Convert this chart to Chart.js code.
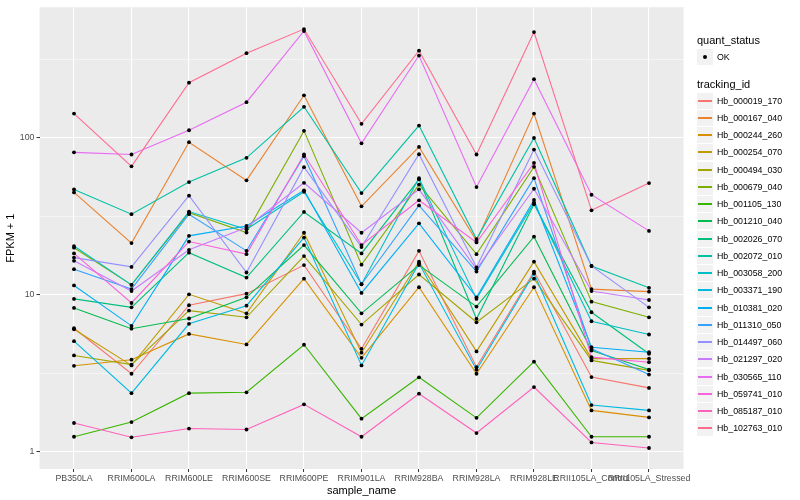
<!DOCTYPE html>
<html>
<head>
<meta charset="utf-8">
<script src="https://cdn.jsdelivr.net/npm/chart.js@4.4.0/dist/chart.umd.min.js"></script>
<style>
  body { margin: 0; background: #fff; font-family: "Liberation Sans", Arial, sans-serif; }
  #wrap { position: relative; width: 800px; height: 500px; }
  #legend div { position: absolute; white-space: nowrap; }
  .ltitle { font-size: 11px; color: #000; line-height: 13px; }
  .lkey { width: 16px; height: 16px; background: #F2F2F2; }
  .ltext { font-size: 8.8px; color: #000; line-height: 10px; }
</style>
</head>
<body>
<div id="wrap">
  <canvas id="fpkmChart" width="800" height="500"></canvas>
  <div id="legend"></div>
</div>
<script>
// --- data (values are FPKM + 1) ---
const sampleNames = ['PB350LA', 'RRIM600LA', 'RRIM600LE', 'RRIM600SE', 'RRIM600PE', 'RRIM901LA',
  'RRIM928BA', 'RRIM928LA', 'RRIM928LE', 'RRII105LA_Control', 'RRII105LA_Stressed'];

const trackingIds = ['Hb_000019_170', 'Hb_000167_040', 'Hb_000244_260', 'Hb_000254_070', 'Hb_000494_030',
  'Hb_000679_040', 'Hb_001105_130', 'Hb_001210_040', 'Hb_002026_070', 'Hb_002072_010',
  'Hb_003058_200', 'Hb_003371_190', 'Hb_010381_020', 'Hb_011310_050', 'Hb_014497_060',
  'Hb_021297_020', 'Hb_030565_110', 'Hb_059741_010', 'Hb_085187_010', 'Hb_102763_010'];

const hb000019 = [6.14, 3.15, 8.6, 10.2, 15.5, 4.54, 19.1, 3.47, 14.1, 3.0, 2.56];
const hb000167 = [45, 21.4, 94, 53.7, 187, 36.7, 87.7, 22.1, 143, 10.9, 10.5];
const hb000244 = [3.54, 3.87, 5.65, 4.84, 12.7, 3.98, 11.2, 3.15, 11.2, 1.84, 1.66];
const hb000254 = [6.05, 3.56, 10.1, 7.64, 24.9, 4.29, 16.3, 4.37, 16.3, 3.93, 3.93];
const hb000494 = [4.12, 3.6, 7.95, 7.21, 17.7, 6.48, 13.5, 6.7, 12.7, 3.83, 3.31];
const hb000679 = [20.0, 11.6, 33.4, 25.0, 111, 15.6, 50.5, 18.2, 65.5, 9.07, 7.21];
const hb001105 = [1.25, 1.55, 2.37, 2.4, 4.82, 1.63, 2.99, 1.65, 3.76, 1.25, 1.25];
const hb001210 = [8.27, 6.1, 7.08, 9.66, 20.8, 7.64, 15.5, 8.43, 23.5, 4.43, 3.35];
const hb002026 = [9.44, 8.34, 18.6, 12.9, 33.8, 18.4, 54.5, 7.05, 37.8, 7.76, 4.22];
const hb002072 = [47, 32.7, 52.4, 74.7, 158, 44.6, 120, 22.7, 100, 15.3, 11.1];
const hb003058 = [20.5, 11.6, 34, 26.2, 45.4, 11.7, 55.5, 9.44, 38.7, 6.8, 5.6];
const hb003371 = [5.08, 2.37, 6.55, 8.55, 23.2, 3.56, 15.9, 3.34, 13.7, 1.99, 1.84];
const hb010381 = [11.5, 6.36, 23.8, 27.5, 46.4, 10.3, 28.6, 9.66, 40.3, 4.65, 4.32];
const hb011310 = [14.6, 10.9, 32.7, 19.1, 76.6, 11.7, 37.2, 14.1, 55.5, 4.54, 3.11];
const hb014497 = [17.3, 15.1, 42.9, 13.9, 65.2, 20.2, 78.8, 15.0, 84.4, 15.3, 8.34];
const hb021297 = [16.5, 10.6, 19.4, 26.9, 51.8, 24.9, 47.1, 14.6, 47.5, 10.6, 9.29];
const hb030565 = [81, 78.5, 112, 169, 480, 92.5, 335, 48.7, 237, 43.5, 25.6];
const hb059741 = [18.4, 8.89, 21.9, 18.2, 78.5, 20.8, 40.1, 21.6, 69.4, 4.02, 3.73];
const hb085187 = [1.53, 1.24, 1.41, 1.39, 2.01, 1.25, 2.35, 1.32, 2.59, 1.15, 1.06];
const hb102763 = [143, 66, 225, 347, 494, 123, 360, 78.5, 473, 34.6, 51.6];

const yBreaks = [1, 3.1623, 10, 31.623, 100, 316.23];
const yTickLabels = ['1', '', '10', '', '100', ''];

const allSeries = [hb000019, hb000167, hb000244, hb000254, hb000494, hb000679, hb001105, hb001210,
  hb002026, hb002072, hb003058, hb003371, hb010381, hb011310, hb014497, hb021297, hb030565,
  hb059741, hb085187, hb102763];

// ggplot default hue palette for 20 groups
const lineColors = ['#F8766D', '#EA8331', '#D89000', '#C09B00', '#A3A500', '#7CAE00', '#39B600',
  '#00BB4E', '#00BF7D', '#00C1A3', '#00BFC4', '#00BAE0', '#00B0F6', '#35A2FF', '#9590FF',
  '#C77CFF', '#E76BF3', '#FA62DB', '#FF62BC', '#FF6C91'];

// lines first (last id on top), then the black points over everything
const datasets = [];
allSeries.forEach(function(vals, i) {
  datasets.push({
    label: trackingIds[i],
    data: vals.map((v, j) => ({ x: j, y: v })),
    borderColor: lineColors[i],
    borderWidth: 1.1,
    pointRadius: 0,
    fill: false,
    tension: 0,
    order: 19 - i
  });
});
allSeries.forEach(function(vals, i) {
  datasets.push({
    label: trackingIds[i] + ' points',
    data: vals.map((v, j) => ({ x: j, y: v })),
    showLine: false,
    pointRadius: 1.9,
    pointBackgroundColor: '#000',
    pointBorderWidth: 0,
    order: -1
  });
});

const panelBackground = {
  id: 'panelBackground',
  beforeDraw(chart) {
    const a = chart.chartArea;
    const ctx = chart.ctx;
    ctx.save();
    ctx.fillStyle = '#EBEBEB';
    ctx.fillRect(a.left, a.top, a.right - a.left, a.bottom - a.top);
    ctx.restore();
  }
};

const tickFont = { family: '"Liberation Sans", Arial, sans-serif', size: 8.8 };
const titleFont = { family: '"Liberation Sans", Arial, sans-serif', size: 11 };

new Chart(document.getElementById('fpkmChart'), {
  type: 'line',
  data: { datasets: datasets },
  plugins: [panelBackground],
  options: {
    responsive: false,
    animation: false,
    layout: { padding: { top: 5.5, right: 116.5, left: 0, bottom: 0 } },
    plugins: { legend: { display: false }, tooltip: { enabled: false } },
    scales: {
      x: {
        type: 'linear',
        min: -0.6,
        max: 10.6,
        afterBuildTicks: s => { s.ticks = sampleNames.map((n, i) => ({ value: i })); },
        afterFit: s => { s.height = 31; },
        ticks: {
          autoSkip: false, maxRotation: 0, minRotation: 0, padding: 1,
          color: '#4D4D4D', font: tickFont,
          callback: (v, i) => sampleNames[i]
        },
        grid: { color: '#FFFFFF', lineWidth: 1.07, tickColor: '#333333', tickLength: 3, tickWidth: 1 },
        border: { display: false },
        title: { display: true, text: 'sample_name', color: '#000', font: titleFont, padding: { top: 0, bottom: 2 } }
      },
      y: {
        type: 'logarithmic',
        min: 0.779,
        max: 680,
        afterBuildTicks: s => { s.ticks = yBreaks.map(v => ({ value: v })); },
        afterFit: s => { s.width = 39.5; },
        ticks: {
          padding: 2, color: '#4D4D4D', font: tickFont,
          callback: (v, i) => yTickLabels[i]
        },
        grid: {
          color: '#FFFFFF',
          lineWidth: ctx => (ctx.index % 2 === 0 ? 1.07 : 0.53),
          tickColor: ctx => (ctx.index % 2 === 0 ? '#333333' : 'rgba(0,0,0,0)'),
          tickLength: 3,
          tickWidth: 1
        },
        border: { display: false },
        title: { display: true, text: 'FPKM + 1', color: '#000', font: titleFont, padding: { top: 4, bottom: 0 } }
      }
    }
  }
});

// --- legend in ggplot style ---
const legend = document.getElementById('legend');
function addDiv(cls, left, top, html) {
  const d = document.createElement('div');
  d.className = cls;
  d.style.left = left + 'px';
  d.style.top = top + 'px';
  if (html) d.innerHTML = html;
  legend.appendChild(d);
  return d;
}
addDiv('ltitle', 697, 34, 'quant_status');
const okKey = addDiv('lkey', 697, 49);
okKey.innerHTML = '<div style="position:absolute;left:6px;top:6px;width:4px;height:4px;border-radius:2px;background:#000"></div>';
addDiv('ltext', 717, 52, 'OK');
addDiv('ltitle', 697, 78, 'tracking_id');
trackingIds.forEach(function(id, i) {
  const top = Math.round(92.5 + i * 17.26);
  const key = addDiv('lkey', 697, top);
  key.innerHTML = '<div style="position:absolute;left:1px;top:7px;width:14px;height:2px;background:' + lineColors[i] + '"></div>';
  addDiv('ltext', 717, top + 3, id);
});
</script>
</body>
</html>
